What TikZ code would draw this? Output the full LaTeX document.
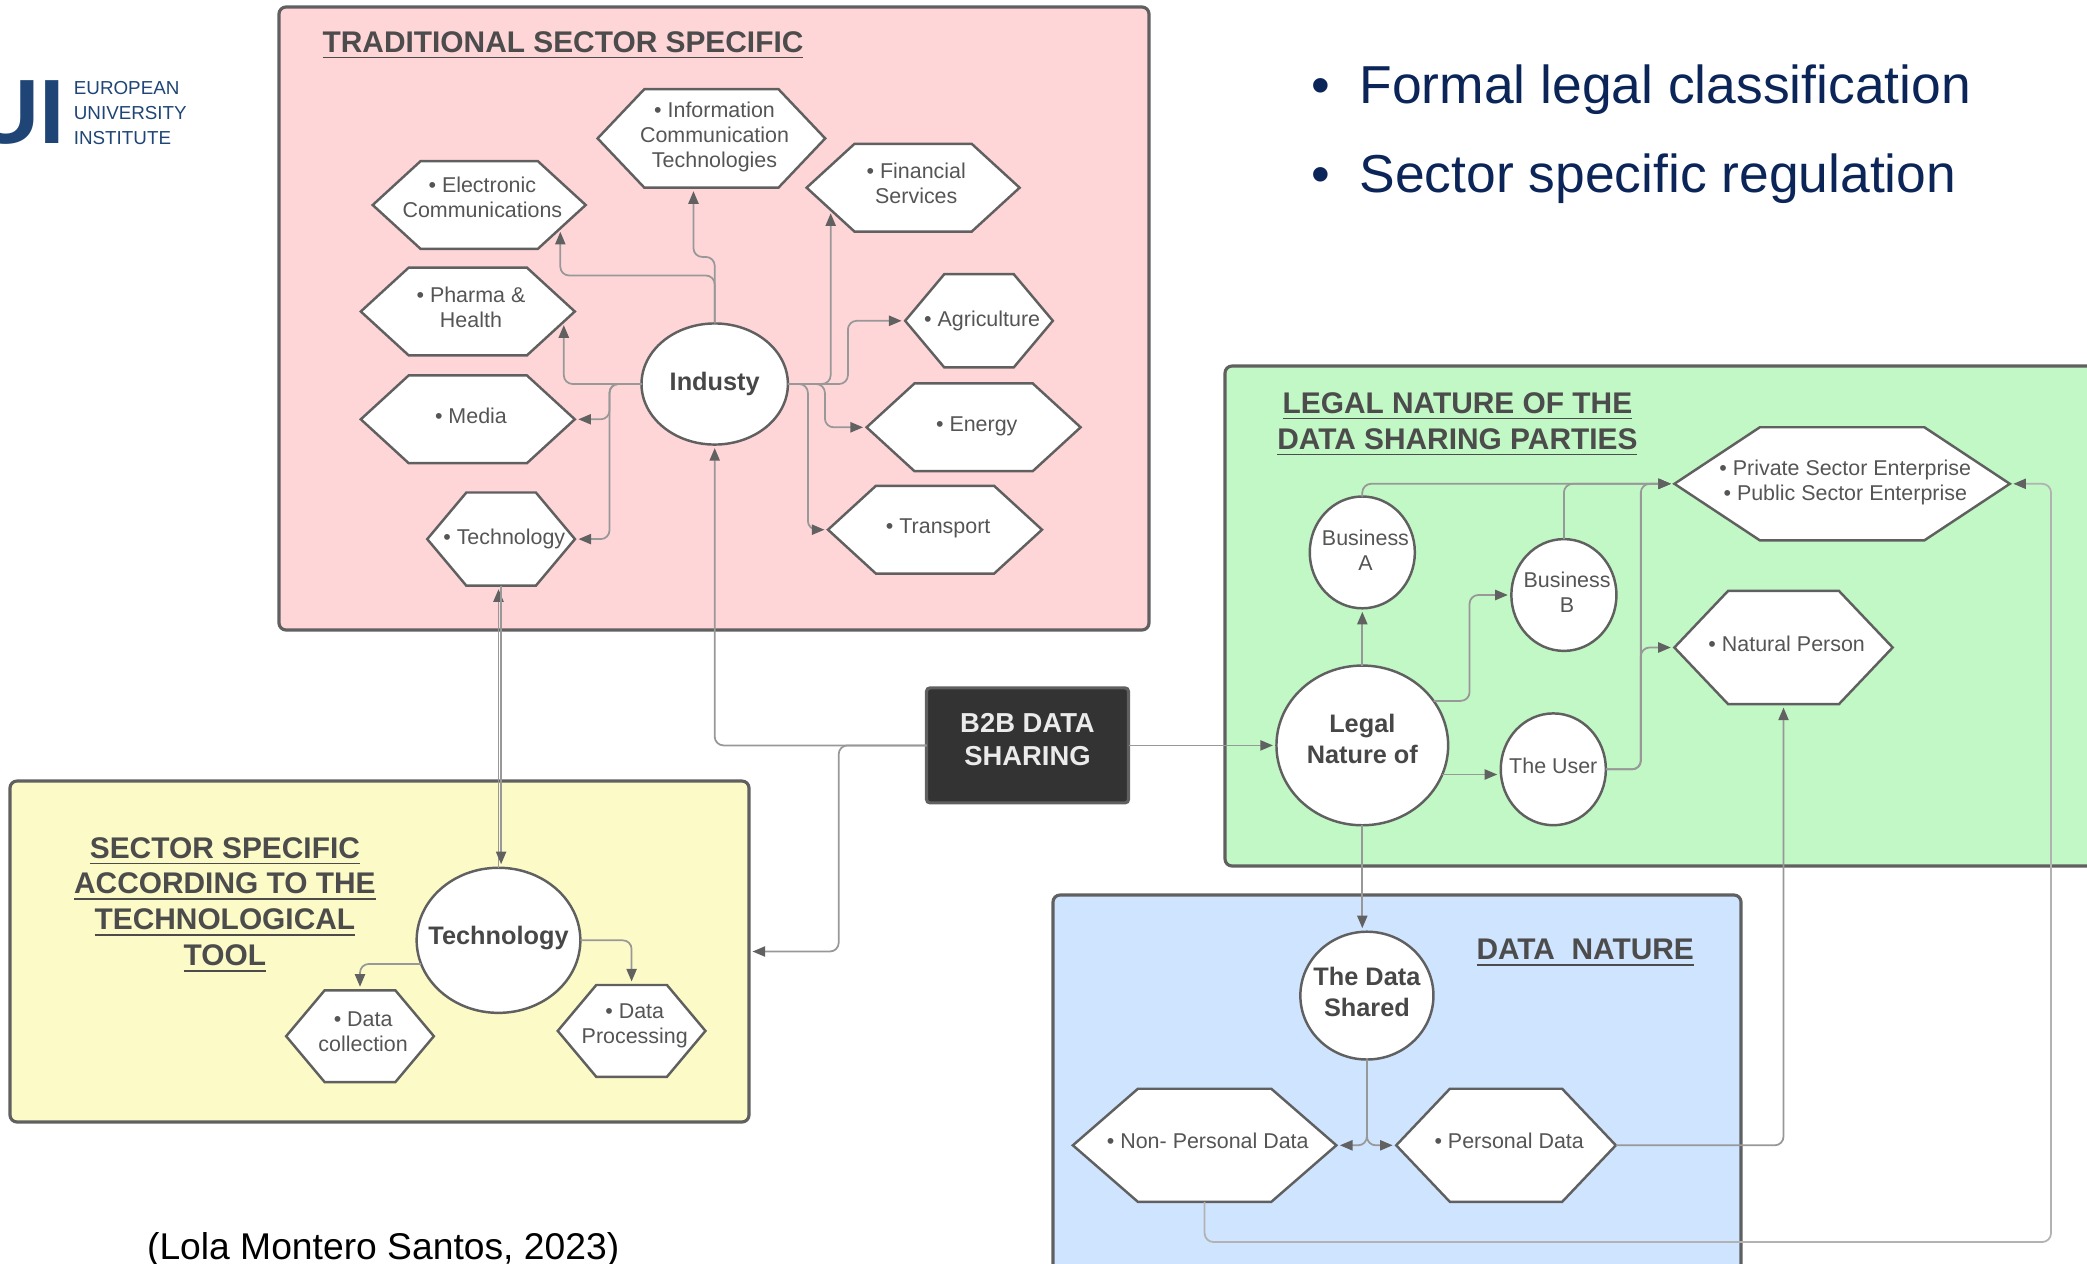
\documentclass[tikz,border=0pt]{standalone}
\usepackage{fontspec}
\setmainfont{Liberation Sans}
\usetikzlibrary{shapes.geometric,shapes.symbols,arrows.meta}

\definecolor{pinkfill}{HTML}{FFD6D8}
\definecolor{greenfill}{HTML}{C2F7C6}
\definecolor{bluefill}{HTML}{CFE4FF}
\definecolor{yellowfill}{HTML}{FCFBC8}
\definecolor{edgegrey}{HTML}{606060}
\definecolor{linegrey}{HTML}{989898}
\definecolor{textgrey}{HTML}{555555}
\definecolor{navytext}{HTML}{0B2559}
\definecolor{logoblue}{HTML}{1F4576}

% text that takes no room in its node, so that the node keeps its drawn size
\newcommand{\mainlabel}[2][-1.1pt]{\raisebox{#1}[0pt][0pt]{\makebox[0pt]{\begin{tabular}{@{}c@{}}#2\end{tabular}}}}
\newcommand{\hexlabel}[2][-1.3pt]{\hspace*{1.8pt}\mainlabel[#1]{#2}}

\tikzset{
  panel/.style={draw=edgegrey, line width=0.9pt, rounded corners=2pt, inner sep=0pt, outer sep=0pt},
  hexnode/.style={shape=signal, signal to=east and west, signal pointer angle=#1, draw=edgegrey, fill=white,
    line width=0.7pt, inner sep=0pt, outer sep=0pt, text=textgrey,
    font=\fontsize{6.1}{7.1}\selectfont},
  hexnode/.default=85,
  roundnode/.style={ellipse, draw=edgegrey, fill=white, line width=0.7pt, inner sep=0pt, outer sep=0pt,
    text=textgrey, font=\fontsize{6.1}{7.1}\selectfont},
  mainnode/.style={roundnode, font=\bfseries\fontsize{7.2}{8.7}\selectfont, text=black!72},
  paneltitle/.style={align=center, text=black!70, font=\bfseries\fontsize{8.5}{10.2}\selectfont},
  conn/.style={draw=linegrey, line width=0.5pt, rounded corners=2.5pt, shorten >=1pt,
    -{Triangle[length=3.6pt,width=2.9pt,fill=black!62,color=black!62]}},
  bullettext/.style={anchor=west, text=navytext, inner sep=0pt, font=\fontsize{15.2}{18}\selectfont}
}

\begin{document}
\begin{tikzpicture}
\useasboundingbox (0,0) rectangle (20.87,12.63);

% Coloured panels
\node[panel, fill=pinkfill, minimum width=8.70cm, minimum height=6.23cm] (tradbox) at (7.14,9.445) {};
\node[panel, fill=greenfill, minimum width=8.75cm, minimum height=5.00cm] (legalbox) at (16.625,6.47) {};
\node[panel, fill=bluefill, minimum width=6.88cm, minimum height=4.05cm] (databox) at (13.97,1.655) {};
\node[panel, fill=yellowfill, minimum width=7.39cm, minimum height=3.41cm] (toolbox) at (3.795,3.115) {};

% Logo
\node[anchor=east, inner sep=0pt, text=logoblue, font=\bfseries\fontsize{26}{26}\selectfont] (logomark) at (0.655,11.50) {UI};
\node[anchor=west, inner sep=0pt, align=left, text=logoblue, font=\fontsize{5.35}{7}\selectfont] (logotext) at (0.732,11.499) {EUROPEAN\\UNIVERSITY\\INSTITUTE};

% Bullets and source
\node[bullettext] (formal) at (13.11,11.738) {\makebox[13.6pt][l]{•}Formal legal classification};
\node[bullettext] (regul) at (13.11,10.847) {\makebox[13.6pt][l]{•}Sector specific regulation};
\node[anchor=west, inner sep=0pt, font=\fontsize{10.6}{13}\selectfont] (source) at (1.464,0.132) {(Lola Montero Santos, 2023)};

% Panel titles
\node[paneltitle] (tradtitle) at (5.630,12.177) {\underline{TRADITIONAL SECTOR SPECIFIC}};
\node[paneltitle] (legaltitle) at (14.574,8.384) {\underline{LEGAL NATURE OF THE}\\\underline{DATA SHARING PARTIES}};
\node[paneltitle] (tooltitle) at (2.249,3.579) {\underline{SECTOR SPECIFIC}\\\underline{ACCORDING TO THE}\\\underline{TECHNOLOGICAL}\\\underline{TOOL}};
\node[paneltitle] (datatitle) at (15.852,3.100) {\underline{DATA\ \ NATURE}};

% Centre box
\node[panel, fill=black!80, text=black!8, minimum width=2.02cm, minimum height=1.15cm,
  rounded corners=1pt, font=\bfseries\fontsize{7.8}{9.5}\selectfont] (btob) at (10.275,5.176) {\mainlabel{B2B DATA\\SHARING}};

% Industry
\node[mainnode, minimum width=1.464cm, minimum height=1.211cm] (indus) at (7.147,8.790) {\mainlabel[-1.9pt]{Industy}};
\node[hexnode=93, minimum width=2.276cm, minimum height=0.985cm] (info) at (7.114,11.246) {\hexlabel[-1.15pt]{• Information\\Communication\\Technologies}};
\node[hexnode, minimum width=2.13cm, minimum height=0.878cm] (elec) at (4.792,10.580) {\hexlabel[-0.15pt]{• Electronic\\Communications}};
\node[hexnode, minimum width=2.13cm, minimum height=0.878cm] (fin) at (9.131,10.753) {\hexlabel[-1pt]{• Financial\\Services}};
\node[hexnode, minimum width=2.14cm, minimum height=0.878cm] (pharma) at (4.678,9.515) {\hexlabel[-1.15pt]{• Pharma \&\\Health}};
\node[hexnode=100, minimum width=1.477cm, minimum height=0.932cm] (agri) at (9.790,9.422) {\hexlabel[-1.7pt]{• Agriculture}};
\node[hexnode, minimum width=2.14cm, minimum height=0.878cm] (media) at (4.678,8.437) {\hexlabel{• Media}};
\node[hexnode, minimum width=2.14cm, minimum height=0.878cm] (energy) at (9.736,8.357) {\hexlabel{• Energy}};
\node[hexnode=100, minimum width=1.477cm, minimum height=0.932cm] (techhex) at (5.011,7.239) {\hexlabel[-1.7pt]{• Technology}};
\node[hexnode, minimum width=2.14cm, minimum height=0.878cm] (transp) at (9.350,7.333) {\hexlabel{• Transport}};

% Legal nature
\node[mainnode, minimum width=1.717cm, minimum height=1.597cm] (legal) at (13.623,5.176) {\mainlabel[-0.75pt]{Legal\\Nature of}};
\node[roundnode, minimum width=1.051cm, minimum height=1.118cm] (busa) at (13.623,7.106) {\hexlabel[-1.55pt]{Business\\A}};
\node[roundnode, minimum width=1.051cm, minimum height=1.118cm] (busb) at (15.639,6.680) {\hexlabel[-1.55pt]{Business\\B}};
\node[roundnode, minimum width=1.051cm, minimum height=1.118cm] (user) at (15.533,4.937) {\mainlabel[-1.35pt]{The User}};
\node[hexnode=67, minimum width=3.354cm, minimum height=1.131cm] (private) at (18.421,7.792) {\hexlabel[-1.15pt]{• Private Sector Enterprise\\• Public Sector Enterprise}};
\node[hexnode=93, minimum width=2.183cm, minimum height=1.131cm] (natural) at (17.835,6.155) {\hexlabel{• Natural Person}};

% Data nature
\node[mainnode, minimum width=1.331cm, minimum height=1.278cm] (shared) at (13.669,2.674) {\mainlabel[-1.5pt]{The Data\\Shared}};
\node[hexnode=82, minimum width=2.635cm, minimum height=1.131cm] (nonpers) at (12.046,1.177) {\hexlabel[-1pt]{• Non- Personal Data}};
\node[hexnode=93, minimum width=2.196cm, minimum height=1.131cm] (pers) at (15.060,1.177) {\hexlabel[-1pt]{• Personal Data}};

% Technological tool
\node[mainnode, minimum width=1.637cm, minimum height=1.451cm] (techtool) at (4.985,3.227) {\mainlabel{Technology}};
\node[hexnode=100, minimum width=1.477cm, minimum height=0.918cm] (datacoll) at (3.600,2.268) {\hexlabel[-1pt]{• Data\\collection}};
\node[hexnode=100, minimum width=1.477cm, minimum height=0.918cm] (dataproc) at (6.316,2.321) {\hexlabel[0pt]{• Data\\Processing}};

\coordinate (outer) at (20.51,0.21);

% Connectors around Industy
\draw[conn] (indus.north) |- (elec.-16 |- 0,9.875) -- (elec.-16);
\draw[conn] (indus.north) -- ++(0,0.665) -| (info.-110);
\draw[conn] (indus.east) -| (fin.195);
\draw[conn] (indus.west) -| (pharma.-6);
\draw[conn] (indus.west) -- ++(-0.32,0) |- (media.east);
\draw[conn] (indus.west) -- ++(-0.32,0) |- (techhex.east);
\draw[conn] (indus.east) -- ++(0.60,0) |- (agri.west);
\draw[conn] (indus.east) -- ++(0.37,0) |- (energy.west);
\draw[conn] (indus.east) -- ++(0.20,0) |- (transp.west);

% Connectors from the centre box
\draw[conn] (btob.west) -| (indus.south);
\draw[conn] (btob.west) -- ++(-0.878,0) |- (toolbox.east);
\draw[conn] (btob.east) -- (legal.west);

% Technology both ways
\draw[conn] (techtool.north) -- (techtool.north |- techhex.south);
\draw[conn] (techhex.south) -- (techhex.south |- techtool.north);
\draw[conn] (techtool.197) -| (datacoll.north);
\draw[conn] (techtool.east) -| (dataproc.north);

% Parties
\draw[conn] (legal.north) -- (busa.south);
\draw[conn] (legal.32) -- ++(0.36,0) |- (busb.west);
\draw[conn] (legal.-20) -- (legal.-20 -| user.west);
\draw[conn] (busa.north) |- (private.west);
\draw[conn] (busb.north) |- (private.west);
\draw[conn] (user.east) -- ++(0.35,0) |- (private.west);
\draw[conn] (user.east) -- ++(0.35,0) |- (natural.west);

% Data
\draw[conn] (legal.south) -- (legal.south |- shared.north);
\draw[conn] (shared.south) |- (nonpers.east);
\draw[conn] (shared.south) |- (pers.west);
\draw[conn] (pers.east) -| (natural.south);
\draw[conn, draw=black!30] (nonpers.south) |- (outer) |- (private.east);
\end{tikzpicture}
\end{document}
